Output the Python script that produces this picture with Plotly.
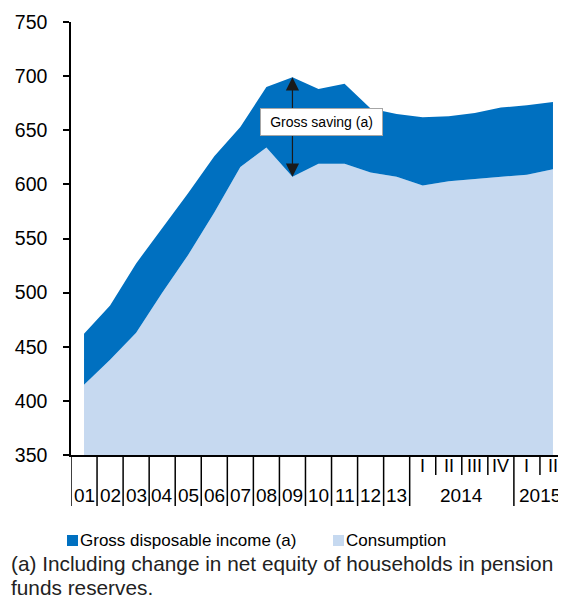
import plotly.graph_objects as go

# ---- data ----
categories = ["01", "02", "03", "04", "05", "06", "07", "08", "09", "10", "11", "12", "13",
              "I", "II", "III", "IV", "I", "II"]
year_groups = ["2014", "2015"]
gross_disposable_income = [462, 488, 527, 559, 592, 626, 653, 690, 699, 688, 693, 670, 665,
                           662, 663, 666, 671, 673, 676]
consumption = [415, 438, 463, 500, 535, 574, 616, 634, 607, 619, 619, 611, 607,
               599, 603, 605, 607, 609, 614]
y_ticks = [350, 400, 450, 500, 550, 600, 650, 700, 750]

DARK = "#0070C0"
LIGHT = "#C6D9F0"
FONT = "Liberation Sans, Arial, sans-serif"

OFF = 8  # page body margin
W, H = 566 - OFF, 598 - OFF
L, R, T = 71 - OFF, 0, 22 - OFF
PH = 433
B = H - T - PH
PW = W - L - R

def px_x(p):
    return (p - OFF - L) / PW

def px_y(p):
    return (H - B - (p - OFF)) / PH

x = list(range(len(categories)))

fig = go.Figure()
fig.add_trace(go.Scatter(x=x, y=consumption, mode="lines", line=dict(width=0, color=LIGHT),
                         fill="tozeroy", fillcolor=LIGHT, name="Consumption", showlegend=False,
                         hoverinfo="skip"))
fig.add_trace(go.Scatter(x=x, y=gross_disposable_income, mode="lines", line=dict(width=0, color=DARK),
                         fill="tonexty", fillcolor=DARK, name="Gross disposable income (a)",
                         showlegend=False, hoverinfo="skip"))

shapes = []
annotations = []

# x-axis category dividers
n = len(categories)
long_bounds = [i + 0.5 for i in range(13)] + [16.5, 18.5]
short_bounds = [13.5, 14.5, 15.5, 17.5]
y_long = px_y(506)
y_short = px_y(475)
shapes.append(dict(type="line", xref="x", yref="paper", x0=-0.5, x1=-0.5, y0=0, y1=y_long,
                   line=dict(color="black", width=1.5)))
for b in long_bounds:
    shapes.append(dict(type="line", xref="x", yref="paper", x0=b, x1=b, y0=0, y1=y_long,
                       line=dict(color="black", width=1.5)))
for b in short_bounds:
    shapes.append(dict(type="line", xref="x", yref="paper", x0=b, x1=b, y0=0, y1=y_short,
                       line=dict(color="black", width=1.5)))

# x labels
for i in range(13):
    annotations.append(dict(x=i, y=px_y(496), xref="x", yref="paper", text=categories[i],
                            showarrow=False, font=dict(size=19, color="black", family=FONT),
                            xanchor="center", yanchor="middle"))
for i in range(13, n):
    annotations.append(dict(x=i, y=px_y(466), xref="x", yref="paper", text=categories[i],
                            showarrow=False, font=dict(size=18, color="black", family=FONT),
                            xanchor="center", yanchor="middle"))
annotations.append(dict(x=14.5, y=px_y(496), xref="x", yref="paper", text=year_groups[0],
                        showarrow=False, font=dict(size=19, color="black", family=FONT),
                        xanchor="center", yanchor="middle"))
annotations.append(dict(x=17.5, y=px_y(496), xref="x", yref="paper", text=year_groups[1],
                        showarrow=False, font=dict(size=19, color="black", family=FONT),
                        xanchor="center", yanchor="middle"))

# Gross saving arrow + label
k = 8
box_y = 658
annotations.append(dict(x=k, y=gross_disposable_income[k], xref="x", yref="y",
                        ax=k, ay=box_y, axref="x", ayref="y", text="", showarrow=True,
                        arrowhead=2, arrowsize=2.2, arrowwidth=1.2, arrowcolor="#1a1a1a"))
annotations.append(dict(x=k, y=consumption[k], xref="x", yref="y",
                        ax=k, ay=box_y, axref="x", ayref="y", text="", showarrow=True,
                        arrowhead=2, arrowsize=2.2, arrowwidth=1.2, arrowcolor="#1a1a1a"))
annotations.append(dict(x=9.1, y=box_y, xref="x", yref="y", text="Gross saving (a)",
                        showarrow=False, font=dict(size=14, color="black", family=FONT),
                        bgcolor="white", bordercolor="#A6A6A6", borderwidth=1, borderpad=1,
                        width=119, height=24, xanchor="center", yanchor="middle"))

# legend (squares + text)
legend_items = [(67, DARK, "Gross disposable income (a)"), (333, LIGHT, "Consumption")]
for x0, col, label in legend_items:
    shapes.append(dict(type="rect", xref="paper", yref="paper", x0=px_x(x0), x1=px_x(x0 + 11),
                       y0=px_y(546), y1=px_y(535), fillcolor=col, line=dict(width=0)))
    annotations.append(dict(x=px_x(x0 + 11), y=px_y(540), xref="paper", yref="paper", text=label,
                            showarrow=False, font=dict(size=17, color="black", family=FONT),
                            xanchor="left", yanchor="middle"))

# footnote
annotations.append(dict(x=px_x(8.5), y=px_y(563), xref="paper", yref="paper",
                        text="(a) Including change in net equity of households in pension",
                        showarrow=False, font=dict(size=20.8, color="#222222", family=FONT),
                        xanchor="left", yanchor="middle"))
annotations.append(dict(x=px_x(8.5), y=px_y(587), xref="paper", yref="paper",
                        text="funds reserves.",
                        showarrow=False, font=dict(size=20.8, color="#222222", family=FONT),
                        xanchor="left", yanchor="middle"))

fig.update_layout(
    width=W, height=H,
    margin=dict(l=L, r=R, t=T, b=B),
    paper_bgcolor="white", plot_bgcolor="white",
    showlegend=False,
    font=dict(family=FONT, color="black"),
    shapes=shapes, annotations=annotations,
    xaxis=dict(range=[-0.5, n - 0.5], showticklabels=False, ticks="", showgrid=False,
               zeroline=False, showline=True, linecolor="black", linewidth=1.5, fixedrange=True),
    yaxis=dict(range=[350, 750], tickvals=y_ticks, ticks="outside", ticklen=6, tickwidth=1.5,
               tickcolor="black", showgrid=False, zeroline=False, showline=True,
               linecolor="black", linewidth=1.5, tickfont=dict(size=19.5, color="black", family=FONT),
               ticklabelstandoff=12, fixedrange=True),
)

fig.write_html("out.html")
